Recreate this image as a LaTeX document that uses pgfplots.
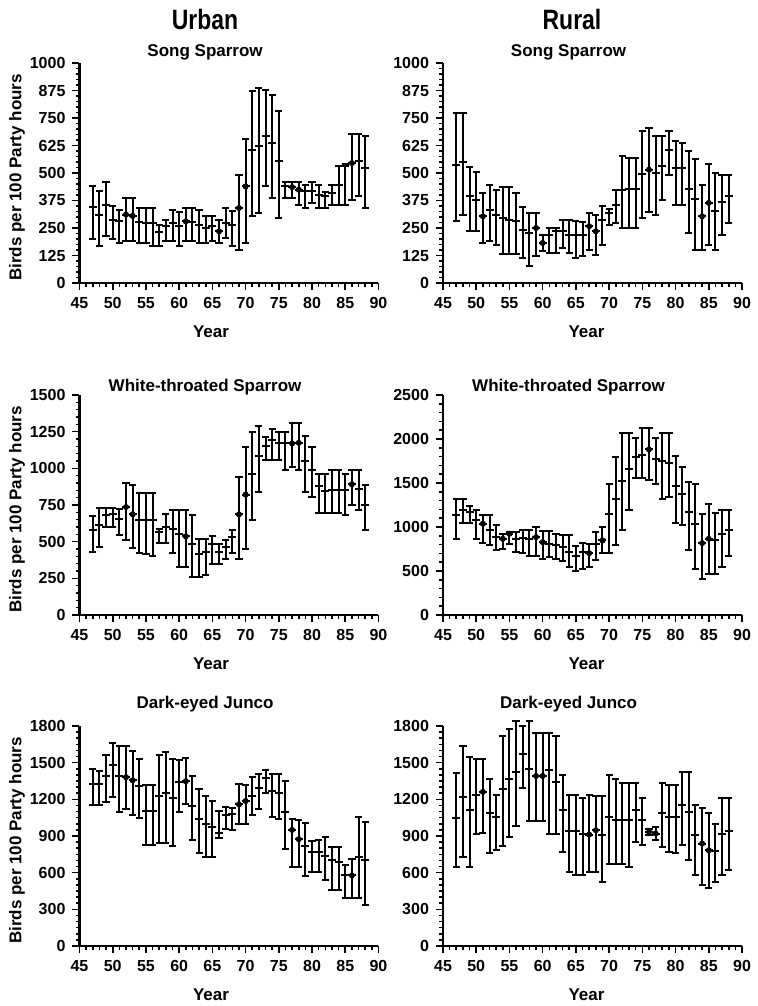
\documentclass[border=0pt]{standalone}
\usepackage{pgfplots}
\pgfplotsset{compat=1.18}
\usepackage{pgfplotstable}
\usepackage{graphicx}
\usepackage{fontspec}
\setmainfont{Liberation Sans}
\usetikzlibrary{plotmarks}

% year, mean, high, low
\pgfplotstableread{
yr m h l
47 344 442 200
48 311 420 167
49 356 458 212
50 288 352 200
51 280 333 182
52 311 386 189
53 305 386 189
54 276 341 182
55 273 341 182
56 273 341 167
57 230 265 167
58 258 288 189
59 273 330 189
60 258 321 167
61 280 341 189
62 276 341 189
63 265 330 182
64 250 303 182
65 258 303 189
66 235 288 182
67 273 341 205
68 265 326 167
69 341 492 152
70 439 655 182
71 606 874 303
72 621 886 318
73 670 879 439
74 636 856 386
75 553 783 295
76 439 458 386
77 436 458 386
78 424 458 356
79 417 447 341
80 417 458 364
81 402 447 341
82 394 412 341
83 409 447 356
84 447 530 356
85 530 540 356
86 545 677 376
87 553 677 394
88 523 670 341
}\urbSS

\pgfplotstableread{
yr m h l
47 538 773 280
48 548 773 311
49 394 527 235
50 379 503 235
51 303 409 182
52 333 447 189
53 311 424 174
54 295 436 133
55 288 436 133
56 280 409 133
57 242 344 114
58 227 318 76
59 250 318 121
60 182 220 144
61 220 250 136
62 235 250 136
63 235 288 159
64 220 288 136
65 220 280 114
66 220 276 121
67 258 318 152
68 235 311 129
69 288 348 174
70 318 336 265
71 356 424 273
72 424 576 250
73 427 568 250
74 427 568 250
75 497 692 295
76 515 705 323
77 500 670 311
78 533 670 379
79 606 692 492
80 523 647 356
81 523 636 356
82 427 598 227
83 383 565 152
84 303 447 152
85 364 542 174
86 326 500 152
87 367 492 220
88 394 492 273
}\rurSS

\pgfplotstableread{
yr m h l
47 577 675 429
48 611 730 467
49 680 732 600
50 691 732 600
51 657 725 543
52 736 903 508
53 686 885 456
54 645 834 422
55 645 834 417
56 645 834 400
57 565 588 490
58 600 691 490
59 588 713 422
60 554 713 330
61 536 713 330
62 486 680 258
63 417 520 258
64 429 520 276
65 486 538 349
66 429 486 349
67 463 508 383
68 531 577 422
69 686 942 383
70 821 1147 451
71 964 1249 645
72 1083 1288 839
73 1151 1215 1060
74 1192 1265 1060
75 1174 1249 1060
76 1174 1249 992
77 1170 1306 1010
78 1174 1306 992
79 1051 1220 839
80 992 1147 805
81 880 960 695
82 846 960 695
83 855 992 695
84 855 992 695
85 850 960 679
86 891 992 748
87 860 992 718
88 752 885 577
}\urbWT

\pgfplotstableread{
yr m h l
47 1140 1315 866
48 1197 1315 1045
49 1170 1239 1045
50 1075 1189 866
51 1037 1140 821
52 969 1132 790
53 885 1018 733
54 866 923 752
55 923 942 809
56 866 942 714
57 880 961 703
58 866 961 676
59 885 999 665
60 828 954 638
61 809 954 657
62 790 916 638
63 771 912 619
64 714 912 551
65 676 779 505
66 714 817 524
67 703 802 543
68 802 942 627
69 847 999 703
70 1151 1493 703
71 1322 1790 790
72 1524 2071 961
73 1664 2071 1189
74 1790 2006 1562
75 1816 2120 1562
76 1881 2120 1539
77 1778 2006 1486
78 1752 2063 1322
79 1729 2063 1341
80 1463 1805 1045
81 1379 1683 1018
82 1170 1512 733
83 1037 1486 524
84 817 1144 410
85 866 1258 467
86 847 1159 467
87 923 1197 551
88 969 1197 676
}\rurWT

\pgfplotstableread{
yr m h l
47 1327 1451 1153
48 1327 1430 1153
49 1394 1559 1178
50 1483 1659 1221
51 1394 1638 1096
52 1381 1638 1118
53 1356 1597 1069
54 1307 1532 1050
55 1104 1321 828
56 1104 1321 828
57 1226 1559 842
58 1248 1584 842
59 1213 1532 820
60 1340 1524 1096
61 1348 1538 1159
62 1145 1394 866
63 1042 1286 761
64 996 1226 725
65 977 1186 725
66 928 1104 880
67 1069 1140 956
68 1077 1131 950
69 1159 1329 996
70 1186 1321 996
71 1226 1383 1069
72 1294 1410 1123
73 1375 1437 1253
74 1267 1410 1056
75 1253 1410 1042
76 1096 1348 793
77 950 1037 644
78 874 1031 644
79 815 1010 571
80 766 861 609
81 766 866 609
82 739 888 541
83 707 807 455
84 685 807 455
85 582 666 395
86 577 712 395
87 725 1058 395
88 707 1015 333
}\urbDJ

\pgfplotstableread{
yr m h l
47 1048 1419 643
48 1220 1634 730
49 1111 1547 643
50 1239 1528 915
51 1261 1528 928
52 1091 1364 764
53 1055 1233 789
54 1282 1715 816
55 1369 1778 892
56 1423 1838 979
57 1573 1799 1295
58 1451 1840 1020
59 1391 1742 1020
60 1391 1742 1020
61 1437 1742 915
62 1342 1715 915
63 1111 1402 771
64 939 1233 607
65 939 1233 580
66 920 1211 580
67 912 1233 607
68 947 1227 607
69 906 1227 526
70 1055 1402 675
71 1029 1364 675
72 1029 1337 675
73 1029 1337 648
74 1111 1337 852
75 1029 1211 830
76 933 960 911
77 920 974 865
78 1091 1337 811
79 1055 1320 770
80 1055 1320 757
81 1156 1424 830
82 1096 1424 702
83 906 1151 580
84 838 1129 498
85 783 1088 476
86 775 1001 526
87 920 1211 580
88 939 1211 620
}\rurDJ

\pgfplotsset{
  panel/.style={
    scale only axis, width=149.5pt, height=110pt,
    axis x line=bottom, axis y line=left,
    x axis line style={-}, y axis line style={-},
    axis line style={line width=1.1pt},
    xmin=45, xmax=90, xtick={45,50,...,90}, minor x tick num=4,
    ymin=0,
    tick align=outside, major tick length=3.5pt, minor tick length=1.8pt,
    every tick/.style={black, line width=0.8pt},
    tick label style={font=\fontsize{8}{9}\selectfont\bfseries},
    /pgf/number format/assume math mode=true,
    /pgf/number format/1000 sep={},
    xlabel={Year},
    xlabel style={at={(axis description cs:0.48,0)}, anchor=base, yshift=-27pt},
    label style={font=\fontsize{8.5}{10}\selectfont\bfseries},
    title style={font=\fontsize{8.5}{10}\selectfont\bfseries, at={(axis description cs:0.42,1)}, anchor=base},
    clip=false,
  },
  urb/.style={ylabel={Birds per 100 Party hours},
    ylabel style={at={(axis description cs:-0.209,0.48)}, anchor=center, rotate=0},
    xlabel style={at={(axis description cs:0.44,0)}}},
  ebar/.style={black, only marks, mark=-, mark size=2pt, mark options={line width=1pt},
    error bars/.cd, y dir=both, y explicit,
    error bar style={line width=1pt},
    error mark options={rotate=90, mark size=1.8pt, line width=1pt}},
  dots/.style={black, only marks, mark=*, mark size=1.3pt},
}
\newcommand{\bars}[1]{\addplot[ebar] table[x=yr, y=m,
  y error plus expr=\thisrow{h}-\thisrow{m},
  y error minus expr=\thisrow{m}-\thisrow{l}] {#1};}

\begin{document}
\begin{tikzpicture}
\useasboundingbox (0,0) rectangle (379pt,-503pt);
\node[anchor=base, font=\fontsize{14}{16}\selectfont\bfseries] at (102.5pt,-15pt) {\scalebox{0.82}[1]{Urban}};
\node[anchor=base, font=\fontsize{14}{16}\selectfont\bfseries] at (286pt,-15pt) {\scalebox{0.82}[1]{Rural}};

% row 1: Song Sparrow
\begin{axis}[panel, urb, at={(39.75pt,-31.5pt)}, anchor=north west,
  ymax=1000, ytick={0,125,...,1000}, minor y tick num=4,
  title={Song Sparrow}, title style={yshift=-2.5pt}]
\bars{\urbSS}
\addplot[dots] coordinates {(52,311) (53,305) (61,280) (66,235) (69,341) (70,439) (77,436) (78,424) (86,545)};
\end{axis}
\begin{axis}[panel, at={(221.5pt,-31.5pt)}, anchor=north west,
  ymax=1000, ytick={0,125,...,1000}, minor y tick num=4,
  title={Song Sparrow}, title style={yshift=-2.5pt}]
\bars{\rurSS}
\addplot[dots] coordinates {(51,303) (59,250) (60,182) (67,258) (68,235) (76,515) (84,303) (85,364)};
\end{axis}

% row 2: White-throated Sparrow
\begin{axis}[panel, urb, at={(39.75pt,-197.5pt)}, anchor=north west,
  ymax=1500, ytick={0,250,...,1500}, minor y tick num=4,
  title={White-throated Sparrow}, title style={yshift=-4pt}]
\bars{\urbWT}
\addplot[dots] coordinates {(52,736) (53,686) (61,536) (69,686) (70,821) (77,1170) (78,1174) (86,891)};
\end{axis}
\begin{axis}[panel, at={(221.5pt,-197.5pt)}, anchor=north west,
  ymax=2500, ytick={0,500,...,2500}, minor y tick num=4,
  title={White-throated Sparrow}, title style={yshift=-4pt}]
\bars{\rurWT}
\addplot[dots] coordinates {(51,1037) (54,866) (55,923) (59,885) (60,828) (67,703) (69,847) (76,1881) (84,817) (85,866)};
\end{axis}

% row 3: Dark-eyed Junco
\begin{axis}[panel, urb, at={(39.75pt,-363pt)}, anchor=north west,
  ymax=1800, ytick={0,300,...,1800}, minor y tick num=5,
  title={Dark-eyed Junco}, title style={yshift=3pt}]
\bars{\urbDJ}
\addplot[dots] coordinates {(52,1381) (53,1356) (61,1348) (69,1159) (70,1186) (77,950) (78,874) (86,577)};
\end{axis}
\begin{axis}[panel, at={(221.5pt,-363pt)}, anchor=north west,
  ymax=1800, ytick={0,300,...,1800}, minor y tick num=5,
  title={Dark-eyed Junco}, title style={yshift=3pt}]
\bars{\rurDJ}
\addplot[dots] coordinates {(51,1261) (59,1391) (60,1391) (67,912) (68,947) (76,933) (77,920) (84,838) (85,783)};
\end{axis}
\end{tikzpicture}
\end{document}
